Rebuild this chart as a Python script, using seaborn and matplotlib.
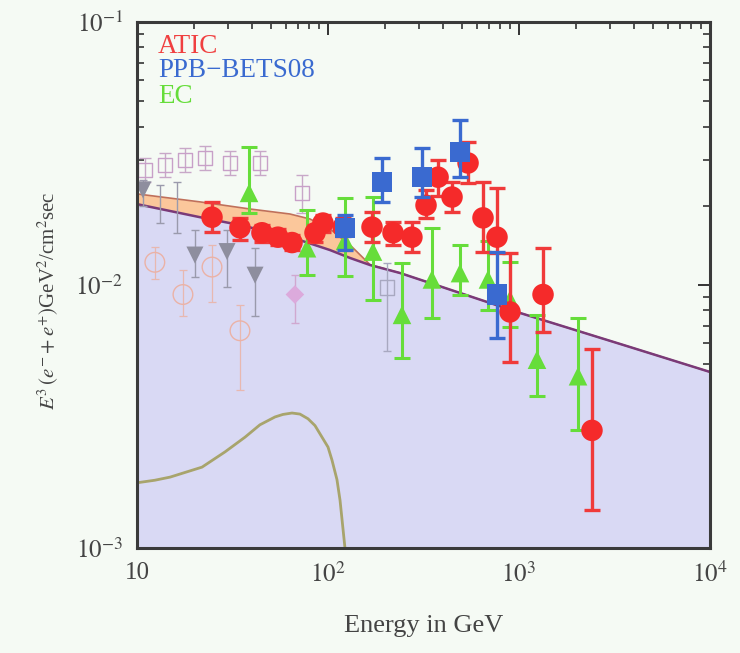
import numpy as np
import pandas as pd
import matplotlib
matplotlib.use('Agg')
import matplotlib.pyplot as plt
import seaborn as sns
from matplotlib.ticker import FixedLocator, FixedFormatter, LogLocator, NullFormatter

# ---------------- data ----------------
# model curves (GeV, E^3 flux)
model_E = [10, 21.4, 34.6, 39.1, 63.2, 80.5, 102.4, 130.4, 166, 238, 342, 1012, 3811, 10000]
bg_flux = [0.0203, 0.0181, 0.0169, 0.01655, 0.01522, 0.01439, 0.01358, 0.01267,
           0.01191, 0.01111, 0.01018, 0.00783, 0.00581, 0.00467]
total_flux = [0.0222, 0.0207, 0.0197, 0.01945, 0.01862, 0.01782, 0.01633, 0.0142,
              0.01195, 0.01111, 0.01018, 0.00783, 0.00581, 0.00467]

dm_E = [10, 12.4, 14.9, 21.9, 28.9, 36.8, 44.0, 52.8, 58.1, 64.8, 71.3, 78.6, 85.5,
        93.0, 100, 104.9, 111.4, 115.6, 122.7, 130]
dm_flux = [0.00177, 0.00181, 0.00186, 0.00203, 0.00232, 0.00264, 0.00294, 0.00315,
           0.00322, 0.00326, 0.00323, 0.00310, 0.00292, 0.00264, 0.00242, 0.00216,
           0.00182, 0.00152, 0.00100, 0.0007]

# ATIC
atic_E = [24.7, 34.6, 45.1, 54.7, 64.8, 85.5, 94.1, 119.8, 170, 219, 275, 326, 377,
          446, 541, 648, 767, 897, 1336, 2410]
atic_y = [0.0181, 0.0165, 0.0158, 0.0152, 0.0145, 0.0158, 0.0172, 0.0166, 0.0166,
          0.0158, 0.0152, 0.0201, 0.0257, 0.0216, 0.0291, 0.0180, 0.0152, 0.0079,
          0.0092, 0.0028]
atic_lo = [0.0159, 0.0148, 0.0146, 0.0142, 0.0136, 0.0146, 0.0159, 0.0154, 0.0146,
           0.0142, 0.0134, 0.0180, 0.0218, 0.0190, 0.0244, 0.0134, 0.0132, 0.0051,
           0.0066, 0.0014]
atic_hi = [0.0207, 0.0180, 0.0169, 0.0163, 0.0155, 0.0169, 0.0185, 0.0180, 0.0190,
           0.0174, 0.0174, 0.0230, 0.0299, 0.0246, 0.0350, 0.0246, 0.0234, 0.0132,
           0.0138, 0.0057]

# PPB-BETS08
ppb_E = [122.7, 191.8, 310.5, 491, 767]
ppb_y = [0.0165, 0.0246, 0.0257, 0.0320, 0.0092]
ppb_lo = [0.0136, 0.0207, 0.0216, 0.0257, 0.0063]
ppb_hi = [0.0185, 0.0304, 0.0332, 0.0424, 0.0134]

# EC
ec_E = [38.6, 77.6, 122.7, 172, 244, 350, 491, 688, 897, 1242, 2037]
ec_y = [0.0224, 0.0138, 0.0147, 0.0134, 0.0077, 0.0105, 0.0111, 0.0105, 0.0088,
        0.0052, 0.0045]
ec_lo = [0.0188, 0.0109, 0.0108, 0.0088, 0.0053, 0.0075, 0.0092, 0.0080, 0.0069,
         0.0038, 0.0028]
ec_hi = [0.0335, 0.0193, 0.0214, 0.0216, 0.0121, 0.0165, 0.0142, 0.0147, 0.0122,
         0.0077, 0.0075]

# faint older data
sq_E = [11.0, 14.0, 17.8, 22.7, 30.7, 44.0, 73.1]
sq_y = [0.0274, 0.0286, 0.0299, 0.0304, 0.0291, 0.0291, 0.0224]
sq_lo = [0.0247, 0.0258, 0.0270, 0.0274, 0.0262, 0.0262, 0.0188]
sq_hi = [0.0304, 0.0317, 0.0332, 0.0337, 0.0323, 0.0323, 0.0262]

tri_E = [10.75, 20.1, 29.6, 41.5]
tri_y = [0.0230, 0.0130, 0.0134, 0.0109]
tri_lo = [0.0200, 0.0107, 0.0098, 0.0076]
tri_hi = [0.0250, 0.0162, 0.0162, 0.0138]

gbar_E = [13.2, 16.2]
gbar_y = [0.0201, 0.0193]
gbar_lo = [0.0172, 0.0158]
gbar_hi = [0.0240, 0.0246]

circ_E = [12.4, 17.4, 24.7, 34.6]
circ_y = [0.0122, 0.0092, 0.0117, 0.0067]
circ_lo = [0.0105, 0.0076, 0.0086, 0.0040]
circ_hi = [0.0140, 0.0114, 0.0142, 0.0084]

dia_E = [67.1]
dia_y = [0.0092]
dia_lo = [0.0072]
dia_hi = [0.0109]

gsq_E = [203.7]
gsq_y = [0.0098]
gsq_lo = [0.0056]
gsq_hi = [0.0121]

x_ticks = [10, 100, 1000, 10000]
x_labels = ['10', '$10^2$', '$10^3$', '$10^4$']
y_ticks = [1e-3, 1e-2, 1e-1]
y_labels = ['$10^{-3}$', '$10^{-2}$', '$10^{-1}$']

# ---------------- plot ----------------
sns.set_theme(style='ticks')
plt.rcParams['font.family'] = ['Liberation Serif', 'DejaVu Serif']
plt.rcParams['mathtext.fontset'] = 'stix'

BG = '#f5faf4'
fig = plt.figure(figsize=(7.4, 6.53), dpi=100, facecolor=BG)
ax = fig.add_axes([137/740, 105/653, 573/740, 526/653])
ax.set_facecolor(BG)
ax.set_xscale('log')
ax.set_yscale('log')
ax.set_xlim(10, 1e4)
ax.set_ylim(1e-3, 1e-1)

model = pd.DataFrame({'E': model_E, 'bg': bg_flux, 'tot': total_flux})
ax.fill_between(model['E'], 1e-4, model['bg'], color='#d9d9f4', lw=0, zorder=1)
ax.fill_between(model['E'], model['bg'], model['tot'], color='#fbc79b', lw=0, zorder=1)
sns.lineplot(data=model, x='E', y='tot', ax=ax, color='#c0705a', lw=1.2, sort=False,
             estimator=None, zorder=2)
sns.lineplot(data=model, x='E', y='bg', ax=ax, color='#7a3a78', lw=1.8, sort=False,
             estimator=None, zorder=3)
dm = pd.DataFrame({'E': dm_E, 'y': dm_flux})
sns.lineplot(data=dm, x='E', y='y', ax=ax, color='#a8a46c', lw=2.0, sort=False,
             estimator=None, zorder=3)


def errs(E, y, lo, hi, color, lw, cap, alpha=1.0, z=4):
    y = np.array(y); lo = np.array(lo); hi = np.array(hi)
    ax.errorbar(E, y, yerr=[y - lo, hi - y], fmt='none', ecolor=color, elinewidth=lw,
                capsize=cap, capthick=lw, alpha=alpha, zorder=z)


# faint older data
errs(sq_E, sq_y, sq_lo, sq_hi, '#c8a8c8', 1.0, 4, z=4)
sns.scatterplot(x=sq_E, y=sq_y, ax=ax, marker='s', s=110, facecolor='none',
                edgecolor='#c8a0c8', linewidth=1.0, zorder=4)
errs(gbar_E, gbar_y, gbar_lo, gbar_hi, '#9a9aac', 1.0, 3, z=4)
errs(tri_E, tri_y, tri_lo, tri_hi, '#9a9aac', 1.0, 3, z=4)
sns.scatterplot(x=tri_E, y=tri_y, ax=ax, marker='v', s=150, color='#8e8e9e',
                edgecolor='none', zorder=4)
errs(circ_E, circ_y, circ_lo, circ_hi, '#e8b8b0', 0.9, 3, z=4)
sns.scatterplot(x=circ_E, y=circ_y, ax=ax, marker='o', s=200, facecolor='none',
                edgecolor='#ebb2a6', linewidth=1.0, zorder=4)
errs(dia_E, dia_y, dia_lo, dia_hi, '#d0a8d0', 1.0, 3, z=4)
sns.scatterplot(x=dia_E, y=dia_y, ax=ax, marker='D', s=90, color='#dcaadc',
                edgecolor='none', zorder=4)
errs(gsq_E, gsq_y, gsq_lo, gsq_hi, '#a8a8c0', 1.0, 3, z=4)
sns.scatterplot(x=gsq_E, y=gsq_y, ax=ax, marker='s', s=110, facecolor='none',
                edgecolor='#a8a8c0', linewidth=1.0, zorder=4)

# main data
errs(ec_E, ec_y, ec_lo, ec_hi, '#66dd3a', 2.2, 6, z=5)
sns.scatterplot(x=ec_E, y=ec_y, ax=ax, marker='^', s=180, color='#66dd3a',
                edgecolor='none', zorder=5)
errs(atic_E, atic_y, atic_lo, atic_hi, '#f03a3a', 2.4, 6, z=6)
sns.scatterplot(x=atic_E, y=atic_y, ax=ax, marker='o', s=240, color='#f52a2a',
                edgecolor='none', zorder=6)
errs(ppb_E, ppb_y, ppb_lo, ppb_hi, '#3a6ad0', 2.4, 6, z=7)
sns.scatterplot(x=ppb_E, y=ppb_y, ax=ax, marker='s', s=220, color='#3a6ad0',
                edgecolor='none', zorder=7)

# legend-like texts
ax.text(0.037, 0.954, 'ATIC', transform=ax.transAxes, color='#f04040', fontsize=19.5,
        va='center', ha='left', zorder=8)
ax.text(0.037, 0.907, 'PPB\u2212BETS08', transform=ax.transAxes, color='#3a6ad0',
        fontsize=19.5, va='center', ha='left', zorder=8)
ax.text(0.037, 0.859, 'EC', transform=ax.transAxes, color='#66dd3a', fontsize=19.5,
        va='center', ha='left', zorder=8)

# axes styling
ax.xaxis.set_major_locator(FixedLocator(x_ticks))
ax.xaxis.set_major_formatter(FixedFormatter(x_labels))
ax.xaxis.set_minor_locator(LogLocator(base=10, subs=np.arange(2, 10)))
ax.xaxis.set_minor_formatter(NullFormatter())
ax.yaxis.set_major_locator(FixedLocator(y_ticks))
ax.yaxis.set_major_formatter(FixedFormatter(y_labels))
ax.yaxis.set_minor_locator(LogLocator(base=10, subs=np.arange(2, 10)))
ax.yaxis.set_minor_formatter(NullFormatter())
ax.tick_params(which='both', direction='in', top=True, right=True, colors='#333333',
               labelcolor='#444444')
ax.tick_params(which='major', length=9, width=1.4, labelsize=18, pad=10)
ax.tick_params(which='minor', length=5, width=1.2)
for s in ax.spines.values():
    s.set_linewidth(2.2)
    s.set_color('#3a3a3a')
    s.set_zorder(10)

ax.set_xlabel('Energy in GeV', fontsize=19, color='#444444', labelpad=20)
ax.set_ylabel('$E^3\\,(e^{-}+e^{+})$GeV$^2$/cm$^2$sec', fontsize=15, color='#444444')
ax.yaxis.set_label_coords(-0.132, 0.47)

fig.savefig('out.png', dpi=100, facecolor=BG)
